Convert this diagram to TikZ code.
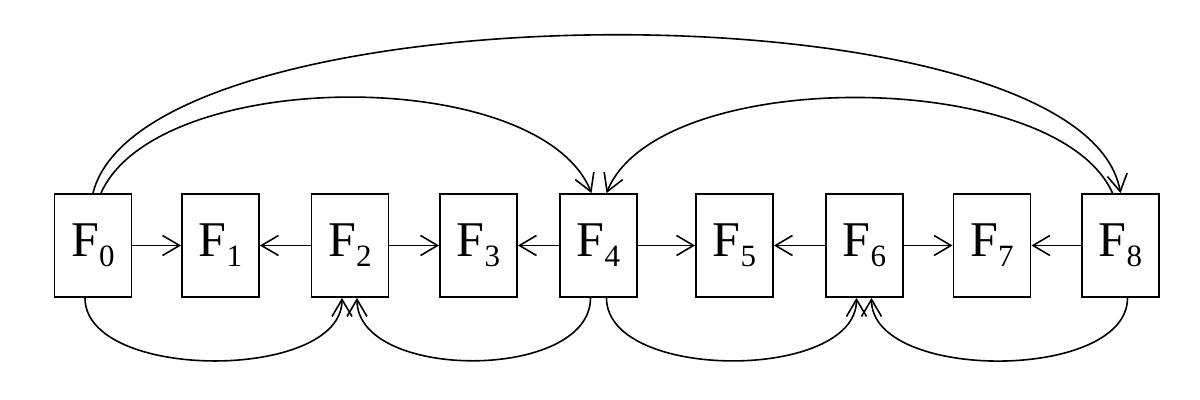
\documentclass[tikz,border=0pt]{standalone}
\usepackage{fontspec}
\setmainfont{Liberation Serif}
\usetikzlibrary{arrows.meta}
\newcommand{\fname}[1]{F\raisebox{-5pt}{\fontsize{15.5pt}{15.5pt}\selectfont #1}}
\begin{document}
\begin{tikzpicture}[x=0.5pt,y=0.5pt,
  framebox/.style={draw,line width=0.9pt,minimum width=38.5pt,minimum height=51.5pt,inner sep=0pt,font=\fontsize{25pt}{25pt}\selectfont},
  link/.style={line width=0.8pt,-{Straight Barb[length=8.5pt,width=10pt]}}]
\useasboundingbox (0,0) rectangle (1200,400);
\node [framebox] (f0) at (93,154.5) {\fname{0}};
\node [framebox] (f1) at (220.5,154.5) {\fname{1}};
\node [framebox] (f2) at (350,154.5) {\fname{2}};
\node [framebox] (f3) at (478.5,154.5) {\fname{3}};
\node [framebox] (f4) at (598.5,154.5) {\fname{4}};
\node [framebox] (f5) at (734.5,154.5) {\fname{5}};
\node [framebox] (f6) at (864.5,154.5) {\fname{6}};
\node [framebox] (f7) at (992,154.5) {\fname{7}};
\node [framebox] (f8) at (1120.5,154.5) {\fname{8}};
\draw [link] (f0) -- (f1);
\draw [link] (f2) -- (f1);
\draw [link] (f2) -- (f3);
\draw [link] (f4) -- (f3);
\draw [link] (f4) -- (f5);
\draw [link] (f6) -- (f5);
\draw [link] (f6) -- (f7);
\draw [link] (f8) -- (f7);
\draw [link] ([xshift=-4pt]f0.south) to [out=-90,in=-90,looseness=0.835] ([xshift=-4pt]f2.south);
\draw [link] ([xshift=-4pt]f4.south) to [out=-90,in=-90,looseness=0.917] ([xshift=3.5pt]f2.south);
\draw [link] ([xshift=4pt]f4.south) to [out=-90,in=-90,looseness=0.858] ([xshift=-4pt]f6.south);
\draw [link] ([xshift=3.5pt]f8.south) to [out=-90,in=-90,looseness=0.84] ([xshift=3.5pt]f6.south);
\draw [link] ([xshift=4pt]f0.north) to [out=66,in=112,looseness=0.725] ([xshift=-3.5pt]f4.north);
\draw [link] (f0.north) to [out=76,in=100,looseness=0.538] (f8.north);
\draw [link] ([xshift=-4pt]f8.north) to [out=114,in=68,looseness=0.7] ([xshift=4pt]f4.north);
\end{tikzpicture}
\end{document}
